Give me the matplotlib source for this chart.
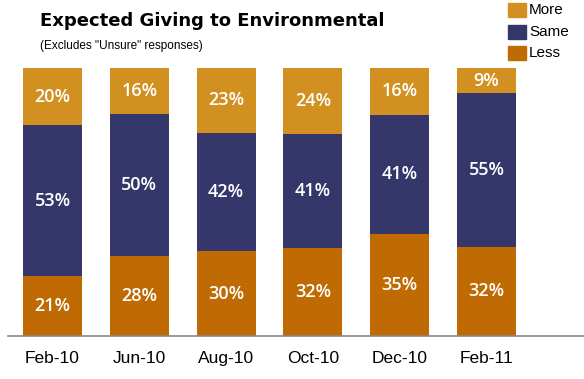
import numpy as np
import matplotlib.pyplot as plt

# Survey waves and responses (percent of respondents, "Unsure" excluded)
periods = ['Feb-10', 'Jun-10', 'Aug-10', 'Oct-10', 'Dec-10', 'Feb-11']
less = np.array([21, 28, 30, 32, 35, 32])
same = np.array([53, 50, 42, 41, 41, 55])
more = np.array([20, 16, 23, 24, 16, 9])

col_more = '#D1901F'
col_same = '#35376B'
col_less = '#C06A03'

# bars are stacked to 100% of the answered total
total = less + same + more
f_less = less / total
f_same = same / total
f_more = more / total

fig = plt.figure(figsize=(5.84, 3.79), dpi=100)
ax = fig.add_axes([8 / 584, 43 / 379, 576 / 584, 268 / 379])

x = np.arange(len(periods))
w = 0.68
ax.bar(x, f_less, w, color=col_less, label='Less')
ax.bar(x, f_same, w, bottom=f_less, color=col_same, label='Same')
ax.bar(x, f_more, w, bottom=f_less + f_same, color=col_more, label='More')

for i in x:
    segs = [(f_less[i] / 2, less[i]),
            (f_less[i] + f_same[i] / 2, same[i]),
            (f_less[i] + f_same[i] + f_more[i] / 2, more[i])]
    for y, v in segs:
        ax.text(i, y, f'{v}%', ha='center', va='center', color='white',
                fontsize=13, fontweight='semibold', family='Open Sans')

ax.set_xlim(-0.513, 6.123)
ax.set_ylim(0, 1)
for s in ['top', 'right', 'left']:
    ax.spines[s].set_visible(False)
ax.spines['bottom'].set_color('#888888')
ax.spines['bottom'].set_linewidth(1.2)
ax.set_yticks([])
ax.set_xticks(x)
ax.set_xticklabels(periods, fontsize=12.5, family='Liberation Sans')
ax.tick_params(axis='x', length=0, pad=11)

fig.text(40 / 584, 1 - 21 / 379, 'Expected Giving to Environmental',
         fontsize=13, fontweight='bold', family='DejaVu Sans', va='center')
fig.text(40 / 584, 1 - 46 / 379, '(Excludes "Unsure" responses)',
         fontsize=8.5, family='Liberation Sans', va='center')

# legend drawn by hand in the top-right corner
for k, (lab, c) in enumerate([('More', col_more), ('Same', col_same), ('Less', col_less)]):
    yc = 10 + k * 21.5
    fig.patches.append(plt.Rectangle((508 / 584, 1 - (yc + 7) / 379), 18 / 584, 14 / 379,
                                     transform=fig.transFigure, color=c))
    fig.text(529 / 584, 1 - yc / 379, lab, fontsize=11, family='Liberation Sans',
             va='center')

fig.savefig('out.png', dpi=100)
